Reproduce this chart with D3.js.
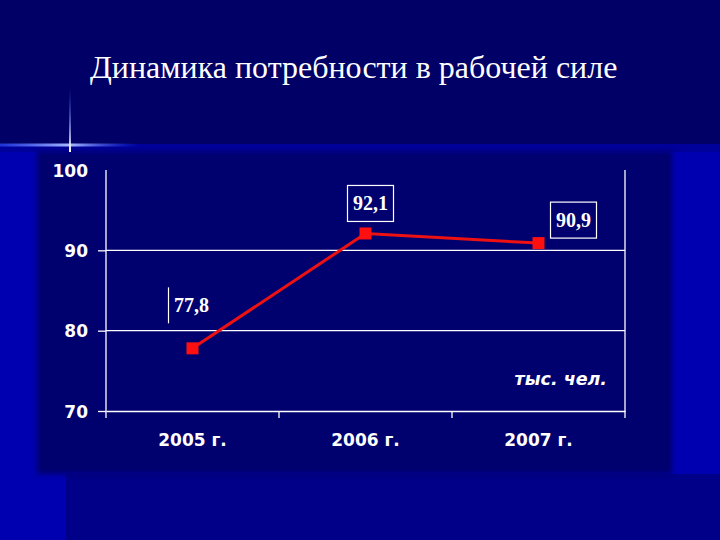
<!DOCTYPE html>
<html>
<head>
<meta charset="utf-8">
<script src="https://cdn.jsdelivr.net/npm/d3@7"></script>
<style>
  html, body { margin: 0; padding: 0; background: #000066; overflow: hidden; }
  svg { display: block; }
</style>
</head>
<body>
<div id="chart"></div>
<script>
// data
const categories = ["2005 г.", "2006 г.", "2007 г."];
const values = [77.8, 92.1, 90.9];
const valueLabels = ["77,8", "92,1", "90,9"];
const yTicks = [70, 80, 90, 100];
const gridValues = [80, 90];
const title = "Динамика потребности в рабочей силе";
const unitLabel = "тыс. чел.";

const width = 720, height = 540;
const margin = { left: 106, right: 95, top: 170, bottom: 129 };
const axisFont = "'DejaVu Sans', Verdana, sans-serif";
const serifFont = "'Liberation Serif', 'Times New Roman', serif";

// label placement relative to the point (box centre offset); first label has only a left rule
const labelOffsets = [[-1, -43], [5, -30], [35, -23]];
const labelFramed = [false, true, true];

const svg = d3.select("#chart")
    .append("svg")
    .attr("width", width)
    .attr("height", height)
    .attr("viewBox", `0 0 ${width} ${height}`);

// slide background
const defs = svg.append("defs");
const blur = defs.append("filter").attr("id", "soft")
    .attr("x", "-5%").attr("y", "-5%").attr("width", "110%").attr("height", "110%");
blur.append("feGaussianBlur").attr("stdDeviation", 2.5);

const hGlow = defs.append("linearGradient").attr("id", "hglow");
hGlow.append("stop").attr("offset", "0%").attr("stop-color", "#3355ff").attr("stop-opacity", 0.6);
hGlow.append("stop").attr("offset", "50%").attr("stop-color", "#aabbff").attr("stop-opacity", 1);
hGlow.append("stop").attr("offset", "100%").attr("stop-color", "#2244ff").attr("stop-opacity", 0);

const vGlow = defs.append("linearGradient").attr("id", "vglow")
    .attr("x1", 0).attr("y1", 0).attr("x2", 0).attr("y2", 1);
vGlow.append("stop").attr("offset", "0%").attr("stop-color", "#3355ff").attr("stop-opacity", 0);
vGlow.append("stop").attr("offset", "100%").attr("stop-color", "#ffffff").attr("stop-opacity", 1);

svg.append("rect").attr("width", width).attr("height", height).attr("fill", "#000066");
svg.append("rect").attr("x", 0).attr("y", 144).attr("width", width).attr("height", height - 144).attr("fill", "#0000b0");
svg.append("rect").attr("x", 0).attr("y", 144).attr("width", width).attr("height", 8).attr("fill", "#00009a");
svg.append("rect").attr("x", 66).attr("y", 474).attr("width", width - 66).attr("height", height - 474).attr("fill", "#000088");
svg.append("rect").attr("x", 37).attr("y", 151).attr("width", 635).attr("height", 323)
    .attr("fill", "#00006e").attr("filter", "url(#soft)");

// decorative cross
svg.append("rect").attr("x", 0).attr("y", 143.5).attr("width", 140).attr("height", 3).attr("fill", "url(#hglow)");
svg.append("rect").attr("x", 69).attr("y", 88).attr("width", 2).attr("height", 64).attr("fill", "url(#vglow)");

// title
svg.append("text")
    .text(title)
    .attr("x", 90)
    .attr("y", 78)
    .attr("font-family", serifFont)
    .attr("font-size", 32)
    .attr("fill", "#ffffff");

// scales (absolute page coordinates)
const xScale = d3.scaleBand()
    .domain(categories)
    .range([margin.left, width - margin.right])
    .padding(0);

const yScale = d3.scaleLinear()
    .domain([70, 100])
    .range([height - margin.bottom, margin.top]);

const xMid = c => xScale(c) + xScale.bandwidth() / 2;
const [x0, x1] = xScale.range();
const yBase = yScale(70);

// gridlines
svg.selectAll(".grid")
    .data(gridValues)
    .join("line")
        .attr("class", "grid")
        .attr("x1", x0)
        .attr("x2", x1)
        .attr("y1", d => yScale(d))
        .attr("y2", d => yScale(d))
        .attr("stroke", "#ffffff")
        .attr("stroke-width", 1.3);

// left and right frame lines, running a little below the base
svg.selectAll(".frame")
    .data([x0, x1])
    .join("line")
        .attr("class", "frame")
        .attr("x1", d => d).attr("x2", d => d)
        .attr("y1", yScale(100)).attr("y2", yBase + 7)
        .attr("stroke", "#ffffff").attr("stroke-width", 1.3);

// y axis
const leftAxis = d3.axisLeft(yScale)
    .tickValues(yTicks)
    .tickSizeInner(8)
    .tickSizeOuter(0)
    .tickPadding(10);

const yAxis = svg.append("g")
    .attr("class", "y-axis")
    .attr("transform", `translate(${x0},0)`)
    .call(leftAxis);
yAxis.select(".domain").remove();
yAxis.selectAll(".tick line").attr("stroke", "#ffffff").attr("stroke-width", 1.3)
    .filter(d => d === 100).remove();
yAxis.selectAll(".tick text")
    .attr("fill", "#ffffff")
    .attr("font-family", axisFont)
    .attr("font-weight", "bold")
    .attr("font-size", 17)
    .attr("dy", "0.36em");

// x axis
const bottomAxis = d3.axisBottom(xScale)
    .tickSize(0)
    .tickPadding(23);

const xAxis = svg.append("g")
    .attr("class", "x-axis")
    .attr("transform", `translate(0,${yBase})`)
    .call(bottomAxis);
xAxis.select(".domain").attr("stroke", "#ffffff").attr("stroke-width", 1.3);
xAxis.selectAll(".tick text")
    .attr("fill", "#ffffff")
    .attr("font-family", axisFont)
    .attr("font-weight", "bold")
    .attr("font-size", 17);

// category boundary ticks
svg.selectAll(".bound")
    .data(categories.slice(1))
    .join("line")
        .attr("class", "bound")
        .attr("x1", d => xScale(d))
        .attr("x2", d => xScale(d))
        .attr("y1", yBase)
        .attr("y2", yBase + 7)
        .attr("stroke", "#ffffff")
        .attr("stroke-width", 1.3);

// line series
const line = d3.line()
    .x((d, i) => xMid(categories[i]))
    .y(d => yScale(d));

svg.append("path")
    .datum(values)
    .attr("d", line)
    .attr("fill", "none")
    .attr("stroke", "#ee1111")
    .attr("stroke-width", 3);

svg.selectAll(".marker")
    .data(values)
    .join("rect")
        .attr("class", "marker")
        .attr("x", (d, i) => xMid(categories[i]) - 6)
        .attr("y", d => yScale(d) - 6)
        .attr("width", 12)
        .attr("height", 12)
        .attr("fill", "#ff1010");

// value labels
const labelX = i => xMid(categories[i]) + labelOffsets[i][0];
const labelY = i => yScale(values[i]) + labelOffsets[i][1];
const idx = values.map((d, i) => i);

svg.selectAll(".label-box")
    .data(idx.filter(i => labelFramed[i]))
    .join("rect")
        .attr("class", "label-box")
        .attr("x", i => labelX(i) - 23)
        .attr("y", i => labelY(i) - 18)
        .attr("width", 46)
        .attr("height", 36)
        .attr("fill", "none")
        .attr("stroke", "#ffffff")
        .attr("stroke-width", 1.2);

svg.selectAll(".label-rule")
    .data(idx.filter(i => !labelFramed[i]))
    .join("line")
        .attr("class", "label-rule")
        .attr("x1", i => labelX(i) - 23)
        .attr("x2", i => labelX(i) - 23)
        .attr("y1", i => labelY(i) - 18)
        .attr("y2", i => labelY(i) + 18)
        .attr("stroke", "#ffffff")
        .attr("stroke-width", 1.2);

svg.selectAll(".value-label")
    .data(idx)
    .join("text")
        .attr("class", "value-label")
        .text(i => valueLabels[i])
        .attr("x", i => labelX(i))
        .attr("y", i => labelY(i) + 7)
        .attr("text-anchor", "middle")
        .attr("font-family", serifFont)
        .attr("font-weight", "bold")
        .attr("font-size", 20)
        .attr("fill", "#ffffff");

// unit label
svg.append("text")
    .text(unitLabel)
    .attr("x", x1 - 18)
    .attr("y", yBase - 26)
    .attr("text-anchor", "end")
    .attr("font-family", axisFont)
    .attr("font-style", "italic")
    .attr("font-weight", "bold")
    .attr("font-size", 17.5)
    .attr("fill", "#ffffff");
</script>
</body>
</html>
